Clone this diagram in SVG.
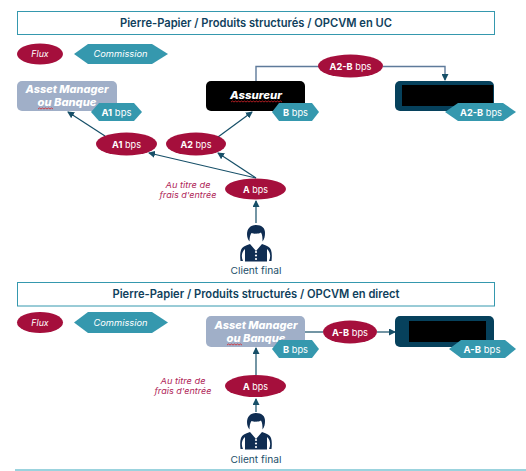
<svg xmlns="http://www.w3.org/2000/svg" width="526" height="471" viewBox="0 0 526 471">
<style>
text{font-family:Inter,"Open Sans","Liberation Sans",sans-serif;text-anchor:middle}
.hdr{fill:#fff;stroke:#3598ae;stroke-width:1}
.hdrt{font-size:11.5px;font-weight:600;fill:#103f5c}
.el{fill:#a50f3c}
.hex{fill:#3598ae}
.w{fill:#fff;font-size:9.5px}
.b{font-weight:700}
.i{font-style:italic;font-size:8.8px;fill:#fff}
.node{font-style:italic;font-weight:800;font-size:10.5px;fill:#fff}
.note{font-style:italic;font-size:8.2px;fill:#b0285a}
.cl{font-size:9.2px;fill:#24506a}
.conn{fill:none;stroke:#164f68;stroke-width:1.2}
.conn2{fill:none;stroke:#5e7a9a;stroke-width:1.4}
.sq{fill:none;stroke:#d8232a;stroke-width:.8}
.p{fill:#0f2d52}
</style>
<defs>
<marker id="ah" markerWidth="7" markerHeight="7" refX="6" refY="3.5" orient="auto" markerUnits="userSpaceOnUse" viewBox="0 0 7 7"><path d="M0 0L7 3.5L0 7Z" fill="#164f68"/></marker>
<g id="person">
<path class="p" d="M0 0C-6 0-9 4-9 9C-9 12-8 15-6.5 16.5C-6.5 13-6 10-4.5 8C-2 9 3 9 5 7.5C6.5 10 6.5 13 6.5 16.5C8.5 14 9 11 9 8C9 3 6 0 0 0Z"/>
<path class="p" d="M-6 19C-11 20.5-14 22-15 25C-16 28-16 32-15.5 36L-13 36C-15 32-14.5 27-11 24L-11 36.5L11 36.5L11 24C14.500 27 15 32 13 36L15.500 36C16 32 16 28 15 25C14 22 11 20.500 6 19L0 26Z"/>
<circle cx="0" cy="27" r="1.100" fill="#fff"/><circle cx="0" cy="30.500" r="1.100" fill="#fff"/><circle cx="0" cy="34" r="1.100" fill="#fff"/>
</g>
</defs>

<g id="connectors">
<path class="conn" d="M105 136L68 112" marker-end="url(#ah)"/>
<path class="conn" d="M218 137L252 112" marker-end="url(#ah)"/>
<path class="conn" d="M256 178L149 153" marker-end="url(#ah)"/>
<path class="conn" d="M256 178L218 153" marker-end="url(#ah)"/>
<path class="conn" d="M256 223V201" marker-end="url(#ah)"/>
<path class="conn2" d="M319 66.500H256V81"/>
<path class="conn2" d="M383 66.500H445V80" marker-end="url(#ah)"/>
<path class="conn" d="M305 332H323"/>
<path class="conn" d="M377 332H395" marker-end="url(#ah)"/>
<path class="conn" d="M256 375V348" marker-end="url(#ah)"/>
<path class="conn" d="M256 412V399" marker-end="url(#ah)"/>
</g>

<g id="header-1"><rect class="hdr" x="17.500" y="11.500" width="477" height="23"/><text class="hdrt" x="256" y="26.500" textLength="272" lengthAdjust="spacingAndGlyphs">Pierre-Papier / Produits structurés / OPCVM en UC</text></g>
<g id="legend-flux-1"><ellipse class="el" cx="40" cy="54" rx="23" ry="10.500"/><text class="i" x="40" y="57">Flux</text></g>
<g id="legend-commission-1"><path class="hex" d="M74 54L88 44H152L168 54L152 64H88Z"/><text class="i" x="120.500" y="57" textLength="54" lengthAdjust="spacingAndGlyphs">Commission</text></g>

<g id="asset-manager-1"><rect x="17" y="81" width="100" height="30" rx="5" fill="#a0afc8"/><text class="node" x="67" y="93" textLength="83" lengthAdjust="spacingAndGlyphs">Asset Manager</text><text class="node" x="67" y="106" textLength="59" lengthAdjust="spacingAndGlyphs">ou Banque</text><path class="sq" d="M38 109l1.500-1 1.500 1 1.500-1 1.500 1 1.500-1 1.500 1 1.500-1 1.500 1 1.500-1 1.500 1"/></g>
<g id="comm-a1"><path class="hex" d="M91 112L99 103H134L142 112L134 121H99Z"/><text class="w" x="116.500" y="115.500" textLength="30" lengthAdjust="spacingAndGlyphs"><tspan class="b">A1</tspan> bps</text></g>

<g id="assureur"><rect x="206" y="81" width="99" height="30" rx="5" fill="#000"/><text class="node" x="256" y="98.500" textLength="52" lengthAdjust="spacingAndGlyphs">Assureur</text><path class="sq" d="M231 102l1.500-1 1.500 1 1.500-1 1.500 1 1.500-1 1.500 1 1.500-1 1.500 1 1.500-1 1.500 1 1.500-1 1.500 1 1.500-1 1.500 1 1.500-1 1.500 1 1.500-1 1.500 1 1.500-1 1.500 1 1.500-1 1.500 1 1.500-1 1.500 1 1.500-1 1.500 1 1.500-1 1.500 1 1.500-1 1.500 1 1.500-1 1.500 1 1.500-1 1.500 1"/></g>
<g id="comm-b"><path class="hex" d="M272 112L279 103H312L319 112L312 121H279Z"/><text class="w" x="295.500" y="115.500" textLength="25" lengthAdjust="spacingAndGlyphs"><tspan class="b">B</tspan> bps</text></g>

<g id="flow-a2b"><ellipse class="el" cx="350.500" cy="66" rx="32.500" ry="11.500"/><text class="w" x="350.500" y="69.500" textLength="42" lengthAdjust="spacingAndGlyphs"><tspan class="b">A2-B</tspan> bps</text></g>
<g id="masked-1"><rect x="395" y="81" width="99" height="30" rx="5" fill="#06415c"/><rect x="402" y="85" width="91" height="21" fill="#000"/></g>
<g id="comm-a2b"><path class="hex" d="M445 112L458 103H503L516 112L503 121H458Z"/><text class="w" x="481" y="115.500" textLength="42" lengthAdjust="spacingAndGlyphs"><tspan class="b">A2-B</tspan> bps</text></g>

<g id="flow-a1"><ellipse class="el" cx="126.500" cy="144" rx="30.500" ry="11.500"/><text class="w" x="126.500" y="147.500" textLength="29" lengthAdjust="spacingAndGlyphs"><tspan class="b">A1</tspan> bps</text></g>
<g id="flow-a2"><ellipse class="el" cx="196" cy="144" rx="30" ry="11.500"/><text class="w" x="196" y="147.500" textLength="31" lengthAdjust="spacingAndGlyphs"><tspan class="b">A2</tspan> bps</text></g>
<g id="flow-a-1"><ellipse class="el" cx="255.500" cy="189" rx="30.500" ry="10.500"/><text class="w" x="255.500" y="192.500" textLength="25" lengthAdjust="spacingAndGlyphs"><tspan class="b">A</tspan> bps</text></g>
<g id="note-1"><text class="note" x="188" y="188" textLength="45" lengthAdjust="spacingAndGlyphs">Au titre de</text><text class="note" x="188" y="198" textLength="57" lengthAdjust="spacingAndGlyphs">frais d'entrée</text></g>
<g id="client-1"><use href="#person" x="256" y="225"/><text class="cl" x="256" y="273.500" textLength="51" lengthAdjust="spacingAndGlyphs">Client final</text></g>

<g id="header-2"><rect class="hdr" x="17.500" y="282.500" width="477" height="23.500"/><text class="hdrt" x="256" y="298" textLength="287" lengthAdjust="spacingAndGlyphs">Pierre-Papier / Produits structurés / OPCVM en direct</text></g>
<g id="legend-flux-2"><ellipse class="el" cx="40" cy="322.500" rx="23" ry="10.500"/><text class="i" x="40" y="326">Flux</text></g>
<g id="legend-commission-2"><path class="hex" d="M74 322.500L88 312H152L168 322.500L152 333H88Z"/><text class="i" x="120.500" y="326" textLength="54" lengthAdjust="spacingAndGlyphs">Commission</text></g>

<g id="asset-manager-2"><rect x="206" y="316" width="99" height="31" rx="5" fill="#a0afc8"/><text class="node" x="256" y="329" textLength="83" lengthAdjust="spacingAndGlyphs">Asset Manager</text><text class="node" x="256" y="342" textLength="59" lengthAdjust="spacingAndGlyphs">ou Banque</text><path class="sq" d="M227 345l1.500-1 1.500 1 1.500-1 1.500 1 1.500-1 1.500 1 1.500-1 1.500 1 1.500-1 1.500 1"/></g>
<g id="comm-b-2"><path class="hex" d="M272 349L279 340H312L319 349L312 358H279Z"/><text class="w" x="295.500" y="352.500" textLength="25" lengthAdjust="spacingAndGlyphs"><tspan class="b">B</tspan> bps</text></g>
<g id="flow-ab"><ellipse class="el" cx="350" cy="332" rx="27" ry="11.500"/><text class="w" x="350" y="335.500" textLength="36" lengthAdjust="spacingAndGlyphs"><tspan class="b">A-B</tspan> bps</text></g>
<g id="masked-2"><rect x="395" y="316" width="99" height="31" rx="5" fill="#06415c"/><rect x="409" y="321" width="77" height="21" fill="#000"/></g>
<g id="comm-ab"><path class="hex" d="M449 349L461 340H505L516 349L505 358H461Z"/><text class="w" x="482" y="352.500" textLength="37" lengthAdjust="spacingAndGlyphs"><tspan class="b">A-B</tspan> bps</text></g>
<g id="flow-a-2"><ellipse class="el" cx="255.500" cy="386" rx="30.500" ry="11"/><text class="w" x="255.500" y="389.500" textLength="25" lengthAdjust="spacingAndGlyphs"><tspan class="b">A</tspan> bps</text></g>
<g id="note-2"><text class="note" x="183" y="384" textLength="45" lengthAdjust="spacingAndGlyphs">Au titre de</text><text class="note" x="183" y="394" textLength="57" lengthAdjust="spacingAndGlyphs">frais d'entrée</text></g>
<g id="client-2"><use href="#person" x="256" y="413"/><text class="cl" x="256" y="463" textLength="51" lengthAdjust="spacingAndGlyphs">Client final</text></g>
<rect x="15" y="469" width="511" height="2" fill="#9bd3de"/>
</svg>
